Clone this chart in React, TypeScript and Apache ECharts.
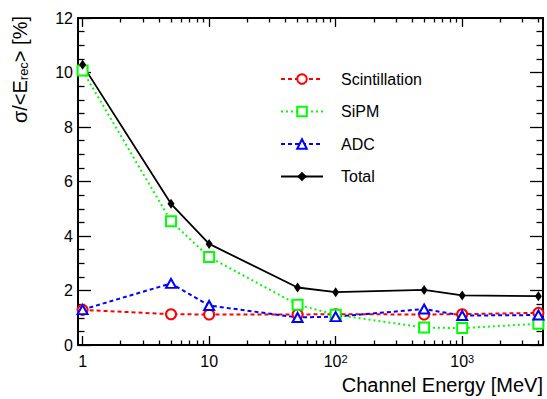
import React, { useEffect, useRef } from "react";
import * as echarts from "echarts";

const energies = [1, 5, 10, 50, 100, 500, 1000, 4000];
const scintillation = [1.29, 1.13, 1.12, 1.12, 1.13, 1.12, 1.13, 1.18];
const sipm = [10.07, 4.54, 3.23, 1.48, 1.11, 0.64, 0.62, 0.78];
const adc = [1.3, 2.26, 1.45, 1.01, 1.04, 1.32, 1.08, 1.1];
const total = [10.28, 5.18, 3.71, 2.11, 1.94, 2.02, 1.82, 1.79];

const xMajorTicks = [1, 10, 100, 1000];
const xTickLabels = ["1", "10", "10|2", "10|3"];
const xRange = [0.92, 4350];
const yRange = [0, 12];

const FONT = '"Liberation Sans", Arial, Helvetica, sans-serif';

export default function App() {
  const ref = useRef<HTMLDivElement>(null);
  useEffect(() => {
    document.body.style.margin = "0";
    const chart = echarts.init(ref.current!, null, { renderer: "svg" });
    const XMIN = Math.log10(xRange[0]);
    const XMAX = Math.log10(xRange[1]);
    const majors = xMajorTicks.map((v) => Math.log10(v));
    const minors: number[] = [];
    for (let d = 1; d <= 1000; d *= 10) {
      for (let k = 2; k <= 9; k++) {
        const v = k * d;
        if (v <= xRange[1]) minors.push(Math.log10(v));
      }
    }
    const labelMap: Record<string, string> = {};
    majors.forEach((m, i) => {
      const t = xTickLabels[i];
      if (t.includes("|")) {
        const [b, s] = t.split("|");
        labelMap[m.toFixed(4)] = `{b|${b}}{s|${s}}`;
      } else {
        labelMap[m.toFixed(4)] = `{b|${t}}`;
      }
    });
    const axisLineStyle = { color: "#000", width: 2 };
    const baseX = {
      type: "value",
      min: XMIN,
      max: XMAX,
      splitLine: { show: false },
    };
    const mk = (arr: number[]) => energies.map((e, i) => [Math.log10(e), arr[i]]);
    const option: any = {
      animation: false,
      backgroundColor: "#fff",
      grid: { left: 78, right: 4, top: 18, bottom: 54, containLabel: false, outerBoundsMode: "none" },
      xAxis: [
        {
          ...baseX,
          position: "bottom",
          axisLine: { show: true, onZero: false, lineStyle: axisLineStyle },
          axisTick: { show: true, inside: true, length: 9, customValues: majors, lineStyle: { color: "#000", width: 1.3 } },
          axisLabel: {
            show: true,
            customValues: majors,
            margin: 8,
            formatter: (v: number) => labelMap[v.toFixed(4)] ?? "",
            rich: {
              b: { fontSize: 16, fontFamily: FONT, color: "#000", lineHeight: 16 },
              s: { fontSize: 11, fontFamily: FONT, color: "#000", lineHeight: 2, verticalAlign: "top" },
            },
          },
        },
        {
          ...baseX,
          position: "bottom",
          axisLine: { show: false, onZero: false },
          axisTick: { show: true, inside: true, length: 4.5, customValues: minors, lineStyle: { color: "#000", width: 1.3 } },
          axisLabel: { show: false },
        },
        {
          ...baseX,
          position: "top",
          axisLine: { show: true, onZero: false, lineStyle: axisLineStyle },
          axisTick: { show: true, inside: true, length: 9, customValues: majors, lineStyle: { color: "#000", width: 1.3 } },
          axisLabel: { show: false },
        },
        {
          ...baseX,
          position: "top",
          axisLine: { show: false, onZero: false },
          axisTick: { show: true, inside: true, length: 4.5, customValues: minors, lineStyle: { color: "#000", width: 1.3 } },
          axisLabel: { show: false },
        },
      ],
      yAxis: [
        {
          type: "value",
          min: yRange[0],
          max: yRange[1],
          interval: 2,
          position: "left",
          splitLine: { show: false },
          axisLine: { show: true, onZero: false, lineStyle: axisLineStyle },
          axisTick: { show: true, inside: true, length: 13, lineStyle: { color: "#000", width: 1.3 } },
          minorTick: { show: true, splitNumber: 4, length: 6.5, lineStyle: { color: "#000", width: 1.3 } },
          minorSplitLine: { show: false },
          axisLabel: { show: true, margin: 5, fontSize: 16, fontFamily: FONT, color: "#000" },
        },
        {
          type: "value",
          min: yRange[0],
          max: yRange[1],
          interval: 2,
          position: "right",
          splitLine: { show: false },
          axisLine: { show: true, onZero: false, lineStyle: axisLineStyle },
          axisTick: { show: true, inside: true, length: 13, lineStyle: { color: "#000", width: 1.3 } },
          minorTick: { show: true, splitNumber: 4, length: 6.5, lineStyle: { color: "#000", width: 1.3 } },
          minorSplitLine: { show: false },
          axisLabel: { show: false },
        },
      ],
      legend: {
        orient: "vertical",
        left: 280,
        top: 71,
        padding: 0,
        itemWidth: 42,
        itemHeight: 12,
        itemGap: 16.5,
        textStyle: { fontSize: 16, fontFamily: FONT, color: "#000", padding: [0, 0, 0, 13] },
        data: ["Scintillation", "SiPM", "ADC", "Total"],
      },
      graphic: [
        {
          type: "text",
          x: 20,
          y: 16,
          rotation: Math.PI / 2,
          style: {
            text: "{a|σ/<E}{s|rec}{a|> [%]}",
            align: "right",
            verticalAlign: "middle",
            fill: "#000",
            rich: {
              a: { fontSize: 20, fontFamily: FONT, fill: "#000", lineHeight: 20 },
              s: { fontSize: 13, fontFamily: FONT, fill: "#000", lineHeight: 6, verticalAlign: "bottom" },
            },
          },
        },
        {
          type: "text",
          right: 4,
          top: 375,
          style: { text: "Channel Energy [MeV]", font: `20px ${FONT}`, fill: "#000" },
        },
      ],
      series: [
        {
          name: "Scintillation",
          type: "line",
          data: mk(scintillation),
          symbol: "emptyCircle",
          symbolSize: 10,
          lineStyle: { color: "#ff0000", width: 2, type: [4, 3] },
          itemStyle: { color: "#ff0000", borderWidth: 1.3 },
        },
        {
          name: "SiPM",
          type: "line",
          data: mk(sipm),
          symbol: "emptyRect",
          symbolSize: 10,
          lineStyle: { color: "#00ff00", width: 2, type: [2, 3] },
          itemStyle: { color: "#00ff00", borderWidth: 1.3 },
        },
        {
          name: "ADC",
          type: "line",
          data: mk(adc),
          symbol: "emptyTriangle",
          symbolSize: [10, 9],
          lineStyle: { color: "#0000ff", width: 2, type: [4, 3] },
          itemStyle: { color: "#0000ff", borderWidth: 1.3 },
        },
        {
          name: "Total",
          type: "line",
          data: mk(total),
          symbol: "diamond",
          symbolSize: [7, 10],
          lineStyle: { color: "#000", width: 1.8, type: "solid" },
          itemStyle: { color: "#000" },
        },
      ],
    };
    chart.setOption(option);
    return () => chart.dispose();
  }, []);
  return <div ref={ref} style={{ width: 547, height: 399 }} />;
}
